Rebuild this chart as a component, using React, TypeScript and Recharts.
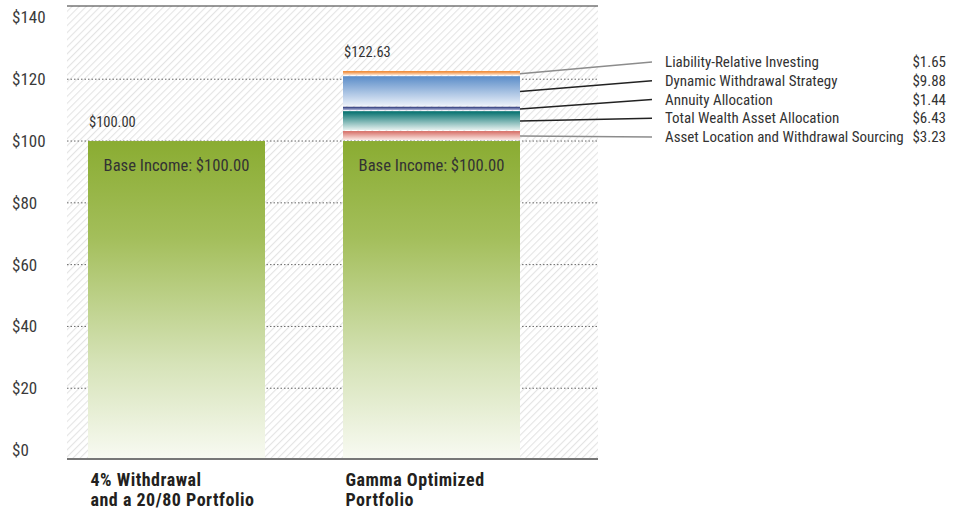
import React from 'react';
import { BarChart, Bar, XAxis, YAxis, CartesianGrid, ReferenceLine } from 'recharts';

const categoryLines: string[][] = [
  ['4% Withdrawal', 'and a 20/80 Portfolio'],
  ['Gamma Optimized', 'Portfolio'],
];
const baseIncome = [100, 100];
const totals = [100.0, 122.63];
// stacking order, bottom to top
const componentNames = [
  'Asset Location and Withdrawal Sourcing',
  'Total Wealth Asset Allocation',
  'Annuity Allocation',
  'Dynamic Withdrawal Strategy',
  'Liability-Relative Investing',
];
const fourPercentComponents = [0, 0, 0, 0, 0];
const gammaComponents = [3.23, 6.43, 1.44, 9.88, 1.65];
const yTicks = [0, 20, 40, 60, 80, 100, 120, 140];
const gridValues = [20, 40, 60, 80, 100, 120];

const componentsByCategory = [fourPercentComponents, gammaComponents];
const data = categoryLines.map((_, i) => {
  const row: any = { x: i + 1, base: baseIncome[i], total: totals[i] };
  componentNames.forEach((__, k) => {
    row['c' + k] = componentsByCategory[i][k];
  });
  return row;
});

const Y_MIN = -2.9;
const Y_MAX = 143.7;
const X_DOMAIN: [number, number] = [0.5706, 2.6529];

const FONT = '"Liberation Sans Narrow", "Arial Narrow", "Roboto Condensed", "DejaVu Sans Condensed", sans-serif';

const segStyles = [
  { top: '#d56b63', bottom: '#fcece8', leader: '#8c8c8c' },
  { top: '#016f6d', bottom: '#e6f1ef', leader: '#222222' },
  { top: '#233073', bottom: '#b6bde0', leader: '#222222' },
  { top: '#5a8cc8', bottom: '#eaf0f9', leader: '#222222' },
  { top: '#ef7a1a', bottom: '#fdeadb', leader: '#8c8c8c' },
];

const legendRowY = (k: number) => 137 - k * 18.75;

const topIndex = (row: any) => {
  let t = -1;
  componentNames.forEach((_, k) => {
    if (row['c' + k] > 0) t = k;
  });
  return t;
};

const fmt = (v: number) => '$' + v.toFixed(2);

const TotalLabel = ({ x, y, value }: any) => (
  <text x={x + 1} y={y - 14} fontFamily={FONT} fontSize={14.5} fill="#333">
    {fmt(value)}
  </text>
);

const BaseShape = (p: any) => {
  const { x, y, width, height, background, payload } = p;
  if (!height || height <= 0) return null;
  const bottom = background && background.height ? background.y + background.height : y + height;
  return (
    <g>
      <rect x={x} y={y} width={width} height={bottom - y} fill="url(#gradBase)" />
      <text
        x={x + width / 2}
        y={y + 30}
        textAnchor="middle"
        fontFamily={FONT}
        fontSize={16.6}
        fill="#333"
      >
        {'Base Income: ' + fmt(payload.base)}
      </text>
      {topIndex(payload) === -1 && <TotalLabel x={x} y={y} value={payload.total} />}
    </g>
  );
};

const makeSegShape = (k: number) => (p: any) => {
  const { x, y, width, height, payload } = p;
  const v = payload['c' + k];
  if (!v || !height || height <= 0) return null;
  const mid = y + height / 2;
  const rowY = legendRowY(k);
  return (
    <g>
      <rect x={x} y={y} width={width} height={Math.max(height - 1, 0.8)} fill={`url(#gradSeg${k})`} />
      <line x1={x + width} y1={mid} x2={652} y2={rowY} stroke={segStyles[k].leader} strokeWidth={1.5} />
      <text x={665} y={rowY + 5} fontFamily={FONT} fontSize={15} fill="#333">
        {componentNames[k]}
      </text>
      <text x={946} y={rowY + 5} textAnchor="end" fontFamily={FONT} fontSize={15} fill="#333">
        {fmt(v)}
      </text>
      {topIndex(payload) === k && <TotalLabel x={x} y={y} value={payload.total} />}
    </g>
  );
};

const segShapes = componentNames.map((_, k) => makeSegShape(k));

const YTick = ({ y, payload }: any) => (
  <text x={12} y={y + 6} fontFamily={FONT} fontSize={17} fill="#3a3a3a">
    {'$' + payload.value}
  </text>
);

const XTick = ({ x, y, payload }: any) => {
  const lines = categoryLines[payload.value - 1] || [];
  return (
    <g>
      {lines.map((l, i) => (
        <text
          key={i}
          x={x - 86}
          y={y + 27 + i * 20}
          fontFamily={FONT}
          fontSize={18}
          letterSpacing={0.5}
          fontWeight="bold"
          fill="#231f20"
        >
          {l}
        </text>
      ))}
    </g>
  );
};

export default function App() {
  return (
    <div style={{ position: 'absolute', left: 0, top: 0, width: 956, height: 515, background: '#fff' }}>
      <BarChart
        width={956}
        height={515}
        data={data}
        margin={{ top: 6, right: 358, bottom: 0, left: 0 }}
      >
        <defs>
          <pattern id="hatch" width="5" height="5" patternUnits="userSpaceOnUse" patternTransform="rotate(45)">
            <rect width="5" height="5" fill="#ffffff" />
            <line x1="0" y1="0" x2="0" y2="5" stroke="#e4e4e4" strokeWidth="2.2" />
          </pattern>
          <linearGradient id="gradBase" x1="0" y1="0" x2="0" y2="1">
            <stop offset="0" stopColor="#8aac32" />
            <stop offset="0.3" stopColor="#a3be5a" />
            <stop offset="0.7" stopColor="#d6e3b8" />
            <stop offset="1" stopColor="#f8faf2" />
          </linearGradient>
          {segStyles.map((s, k) => (
            <linearGradient key={k} id={`gradSeg${k}`} x1="0" y1="0" x2="0" y2="1">
              <stop offset="0" stopColor={s.top} />
              <stop offset="1" stopColor={s.bottom} />
            </linearGradient>
          ))}
        </defs>
        <CartesianGrid
          vertical={false}
          horizontalValues={gridValues}
          stroke="#666"
          strokeDasharray="1.5 2"
          fill="url(#hatch)"
          fillOpacity={1}
        />
        <XAxis
          dataKey="x"
          type="number"
          domain={X_DOMAIN}
          ticks={[1, 2]}
          height={56}
          tick={<XTick />}
          tickLine={false}
          tickSize={0}
          tickMargin={0}
          axisLine={{ stroke: '#777', strokeWidth: 2 }}
          interval={0}
        />
        <YAxis
          type="number"
          domain={[Y_MIN, Y_MAX]}
          ticks={yTicks}
          width={67}
          tick={<YTick />}
          tickLine={false}
          tickSize={0}
          tickMargin={0}
          axisLine={false}
          interval={0}
        />
        <ReferenceLine y={Y_MAX} stroke="#333" strokeWidth={1.2} />
        <Bar dataKey="base" stackId="a" barSize={177} shape={BaseShape} isAnimationActive={false} />
        {componentNames.map((name, k) => (
          <Bar
            key={k}
            dataKey={'c' + k}
            name={name}
            stackId="a"
            barSize={177}
            shape={segShapes[k]}
            isAnimationActive={false}
          />
        ))}
      </BarChart>
    </div>
  );
}
